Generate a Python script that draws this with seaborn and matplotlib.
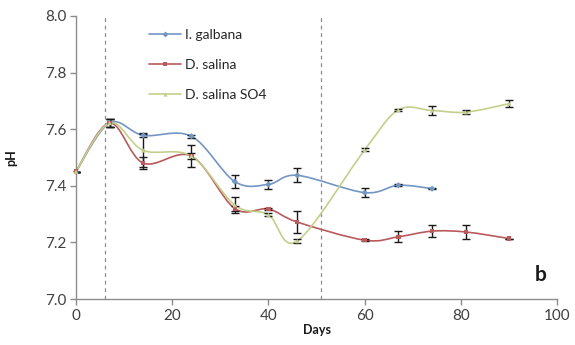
import numpy as np
import pandas as pd
import seaborn as sns
import matplotlib
matplotlib.use("Agg")
import matplotlib.pyplot as plt
from matplotlib.path import Path
from matplotlib.patches import PathPatch
from matplotlib.lines import Line2D

# Sampling days and pH readings (mean ± SD) for each culture
days_galbana = [0, 7, 14, 24, 33, 40, 46, 60, 67, 74]
ph_galbana = [7.45, 7.622, 7.578, 7.575, 7.415, 7.405, 7.437, 7.376, 7.402, 7.39]
sd_galbana = [0.0, 0.015, 0.004, 0.006, 0.024, 0.015, 0.025, 0.016, 0.003, 0.003]

days_salina = [0, 7, 14, 24, 33, 40, 46, 60, 67, 74, 81, 90]
ph_salina = [7.45, 7.622, 7.48, 7.505, 7.32, 7.318, 7.272, 7.208, 7.22, 7.24, 7.237, 7.214]
sd_salina = [0.0, 0.015, 0.02, 0.04, 0.01, 0.005, 0.04, 0.003, 0.02, 0.022, 0.025, 0.0]

days_so4 = [0, 7, 14, 24, 33, 40, 46, 60, 67, 74, 81, 90]
ph_so4 = [7.45, 7.622, 7.525, 7.505, 7.332, 7.298, 7.205, 7.527, 7.668, 7.666, 7.66, 7.69]
sd_so4 = [0.0, 0.015, 0.06, 0.01, 0.028, 0.006, 0.006, 0.005, 0.003, 0.015, 0.008, 0.012]

series_names = ["I. galbana", "D. salina", "D. salina SO4"]
colors = {"I. galbana": "#7396c4", "D. salina": "#b95a5c", "D. salina SO4": "#c4cf8c"}
markers = {"I. galbana": "D", "D. salina": "s", "D. salina SO4": "^"}

phase_bounds = [6, 51]

frames = []
for name, d, v, e in [("I. galbana", days_galbana, ph_galbana, sd_galbana),
                      ("D. salina", days_salina, ph_salina, sd_salina),
                      ("D. salina SO4", days_so4, ph_so4, sd_so4)]:
    frames.append(pd.DataFrame({"Days": d, "pH": v, "sd": e, "culture": name}))
df = pd.concat(frames, ignore_index=True)

sns.set_theme(style="white")
plt.rcParams["font.family"] = ["Lato", "DejaVu Sans"]

fig = plt.figure(figsize=(5.75, 3.45), dpi=100)
ax = fig.add_axes([0.132, 0.133, 0.837, 0.821])


def smooth_path(x, y):
    """Bezier path through the points, with Catmull-Rom style handles."""
    pts = np.column_stack([x, y]).astype(float)
    n = len(pts)
    verts = [pts[0]]
    codes = [Path.MOVETO]
    for i in range(n - 1):
        p0 = pts[i - 1] if i > 0 else pts[i]
        p1 = pts[i]
        p2 = pts[i + 1]
        p3 = pts[i + 2] if i + 2 < n else pts[i + 1]
        c1 = p1 + (p2 - p0) / 6.0
        c2 = p2 - (p3 - p1) / 6.0
        verts += [c1, c2, p2]
        codes += [Path.CURVE4] * 3
    return Path(verts, codes)


for xb in phase_bounds:
    ax.axvline(xb, color="#8c8c8c", lw=0.9, ls=(0, (3, 3)), zorder=1)

for name in series_names:
    sub = df[df["culture"] == name]
    ax.add_patch(PathPatch(smooth_path(sub["Days"], sub["pH"]), facecolor="none",
                           edgecolor=colors[name], lw=1.2, zorder=2))
    ax.errorbar(sub["Days"], sub["pH"], yerr=sub["sd"], fmt="none",
                ecolor="#1a1a1a", elinewidth=1.0, capsize=3.2, capthick=1.0, zorder=3)

sns.scatterplot(data=df, x="Days", y="pH", hue="culture", style="culture",
                palette=colors, markers=markers, s=10, edgecolor="none",
                legend=False, ax=ax, zorder=4, clip_on=False)

ax.set_xlim(0, 100)
ax.set_ylim(7.0, 8.0)
ax.set_xticks([0, 20, 40, 60, 80, 100])
ax.set_yticks([7.0, 7.2, 7.4, 7.6, 7.8, 8.0])
ax.set_yticklabels([f"{t:.1f}" for t in ax.get_yticks()])

for side in ["top", "right"]:
    ax.spines[side].set_visible(False)
for side in ["left", "bottom"]:
    ax.spines[side].set_color("#8c8c8c")
    ax.spines[side].set_linewidth(1.0)
ax.tick_params(axis="both", which="major", direction="out", length=4, width=1.0,
               color="#8c8c8c", labelsize=11, labelcolor="#404040", pad=3)
ax.tick_params(bottom=True, left=True)

ax.set_xlabel("Days", fontsize=9, fontweight="bold", color="#1a1a1a", labelpad=1)
ax.set_ylabel("pH", fontsize=9, fontweight="bold", color="#1a1a1a", labelpad=20)

handles = [Line2D([0], [0], color=colors[n], lw=1.2, marker=markers[n], markersize=3,
                  markeredgewidth=0) for n in series_names]
ax.legend(handles, series_names, loc="upper left", bbox_to_anchor=(0.152, 0.955),
          frameon=False, fontsize=10, handlelength=2.3, handletextpad=0.3,
          labelspacing=1.3, borderpad=0, borderaxespad=0, labelcolor="#262626")

ax.text(0.965, 0.085, "b", transform=ax.transAxes, fontsize=15, fontweight="bold",
        color="#1a1a1a", ha="center", va="center")

fig.savefig("out.png", dpi=100)
